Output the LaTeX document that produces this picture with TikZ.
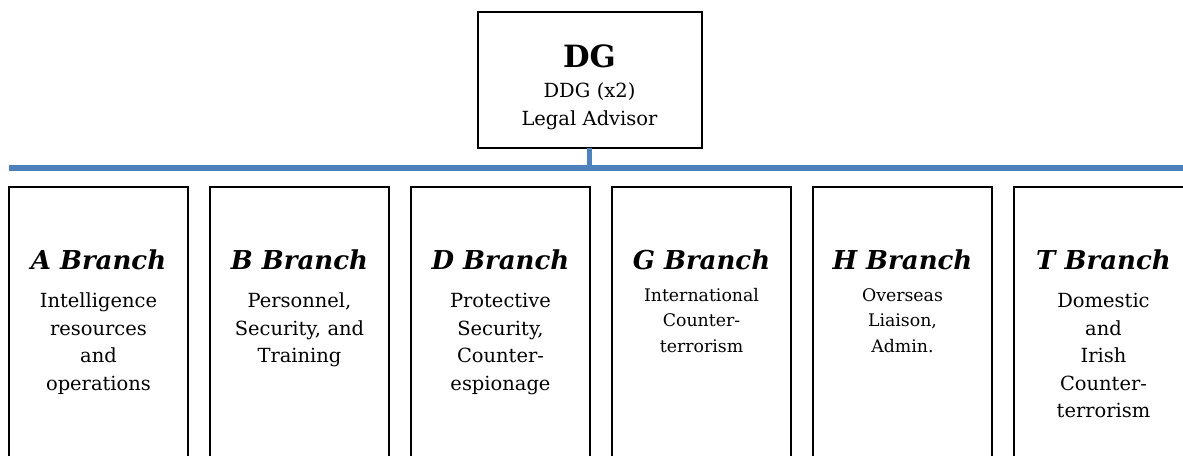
\documentclass[tikz,border=0pt]{standalone}
\usepackage{fontspec}
\setmainfont{DejaVu Serif}
\usetikzlibrary{positioning}

\definecolor{busblue}{RGB}{79,129,189}

\begin{document}
\begin{tikzpicture}[x=0.75pt,y=-0.75pt,
  box/.style={draw=black,line width=1.5pt,rectangle,inner sep=0pt,outer sep=0pt},
  chief/.style={box,minimum width=168pt,minimum height=102pt},
  branch/.style={box,minimum width=134pt,minimum height=230pt},
  head/.style={font=\fontsize{19.5}{24}\selectfont\bfseries\itshape,inner sep=0pt,anchor=base},
  bodytext/.style={font=\fontsize{14.6}{20.6}\selectfont,align=center,text width=130pt,inner sep=0pt,anchor=base},
  smalltext/.style={font=\fontsize{13}{19.5}\selectfont,align=center,text width=130pt,inner sep=0pt,anchor=base},
  bus/.style={draw=busblue,line width=3.8pt}]
  \useasboundingbox (0,0) rectangle (1183,456);
  \clip (0,0) rectangle (1183,456);

  % top of the chart
  \node [chief] (dg) at (589.5,80) {};
  \node [font=\fontsize{23}{28}\selectfont\bfseries,inner sep=0pt,anchor=base] (dgt) at (589.5,68) {DG};
  \node [bodytext] (dgs) at (589.5,98) {DDG (x2)\\Legal Advisor};

  % the bus
  \coordinate (busL) at (9,168);
  \coordinate (busR) at (1190,168);
  \draw [bus] (busL) -- (busR);
  \draw [bus] (dg.south) -- (dg.south |- busL);

  % branches
  \foreach \n/\cx/\lt/\sty/\by/\txt in {
      a/98.5/A/bodytext/308/{Intelligence\\resources\\and\\operations},
      b/299.5/B/bodytext/308/{Personnel,\\Security, and\\Training},
      d/500.5/D/bodytext/308/{Protective\\Security,\\Counter-\\espionage},
      g/701.5/G/smalltext/301/{International\\Counter-\\terrorism},
      h/902.5/H/smalltext/301/{Overseas\\Liaison,\\Admin.},
      t/1103.5/T/bodytext/308/{Domestic\\and\\Irish\\Counter-\\terrorism}}{
    \node [branch] (\n) at (\cx,340) {};
    \node [head] (\n h) at (\cx,270) {\lt\ Branch};
    \node [\sty] (\n b) at (\cx,\by) {\txt};
  }
\end{tikzpicture}
\end{document}
